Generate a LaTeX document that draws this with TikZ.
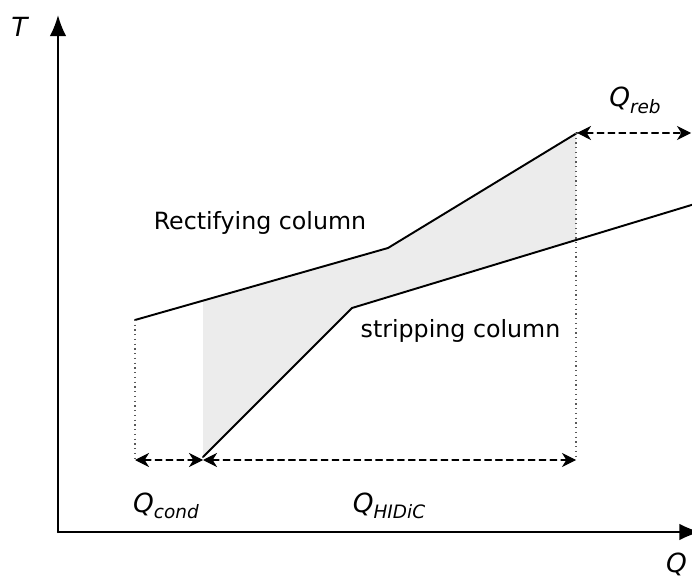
\documentclass[tikz,border=0pt]{standalone}
\usepackage{fontspec}
\setmainfont{DejaVu Sans}
\usetikzlibrary{arrows.meta}
\newcommand{\qsub}[1]{{\itshape Q\raisebox{-0.45ex}{\fontsize{10.5}{11}\selectfont #1}}}
\begin{document}
\begin{tikzpicture}[line join=round, line cap=round,>={Latex[length=12pt,width=9.5pt]},line width=1.1pt]
			\tikzset{every node/.style={font=\fontsize{13.5}{15}\selectfont,inner sep=0pt,anchor=base},
				qlabel/.style={font=\fontsize{15}{17}\selectfont},
				guide/.style={dotted,black!65,line width=0.7pt,line cap=butt},
				span/.style={<->,line width=0.6pt,dash pattern=on 3.8pt off 2.4pt,>={Stealth[length=8pt,width=8pt,inset=2.5pt]}}}
			\useasboundingbox (-1.16,-0.94) rectangle (12.68,10.64);
			% points of the two lines
			\coordinate (r0) at (1.54,4.24);
			\coordinate (r1) at (6.6,5.68);
			\coordinate (r2) at (10.38,7.98);
			\coordinate (s0) at (2.9,1.5);
			\coordinate (s1) at (5.88,4.48);
			\coordinate (s2) at (12.9,6.61);
			\begin{scope}
				\clip (2.9,0) rectangle (10.36,10);
				\fill[gray!15] (r0)--(r1)--(r2)--(s2)--(s1)--(s0)--cycle;
			\end{scope}
			\draw[->,line width=1.3pt] (0,0)--(12.85,0);
			\draw[->,line width=1.3pt] (0,0)--(0,10.34);
			\node[qlabel] (T) at (-0.77,9.9) {\itshape T};
			\node[qlabel] (Q) at (12.37,-0.8) {\itshape Q};
			\draw (r0)--(r1)--(r2);
			\begin{scope}
				\clip (0,0) rectangle (12.68,10);
				\draw (s0)--(s1)--(s2);
			\end{scope}
			% guides and spans
			\coordinate (a) at (1.54,1.44);
			\coordinate (b) at (2.9,1.44);
			\coordinate (c) at (10.36,1.44);
			\coordinate (d) at (12.66,7.98);
			\draw[guide] (r0)--(a);
			\draw[guide] (s0)--(b);
			\draw[guide] (10.36,7.98)--(c);
			\draw[span] (a)--(b);
			\draw[span] (b)--(c);
			\draw[span] (r2)--(d);
			\node[qlabel] (qc) at (2.16,0.4) {\qsub{cond}};
			\node[qlabel] (qh) at (6.62,0.4) {\qsub{HIDiC}};
			\node[qlabel] (qr) at (11.54,8.5) {\qsub{reb}};
			\node (rc) at (4.04,6.04) {Rectifying column};
			\node (sc) at (8.05,3.88) {stripping column};
		\end{tikzpicture}
\end{document}
